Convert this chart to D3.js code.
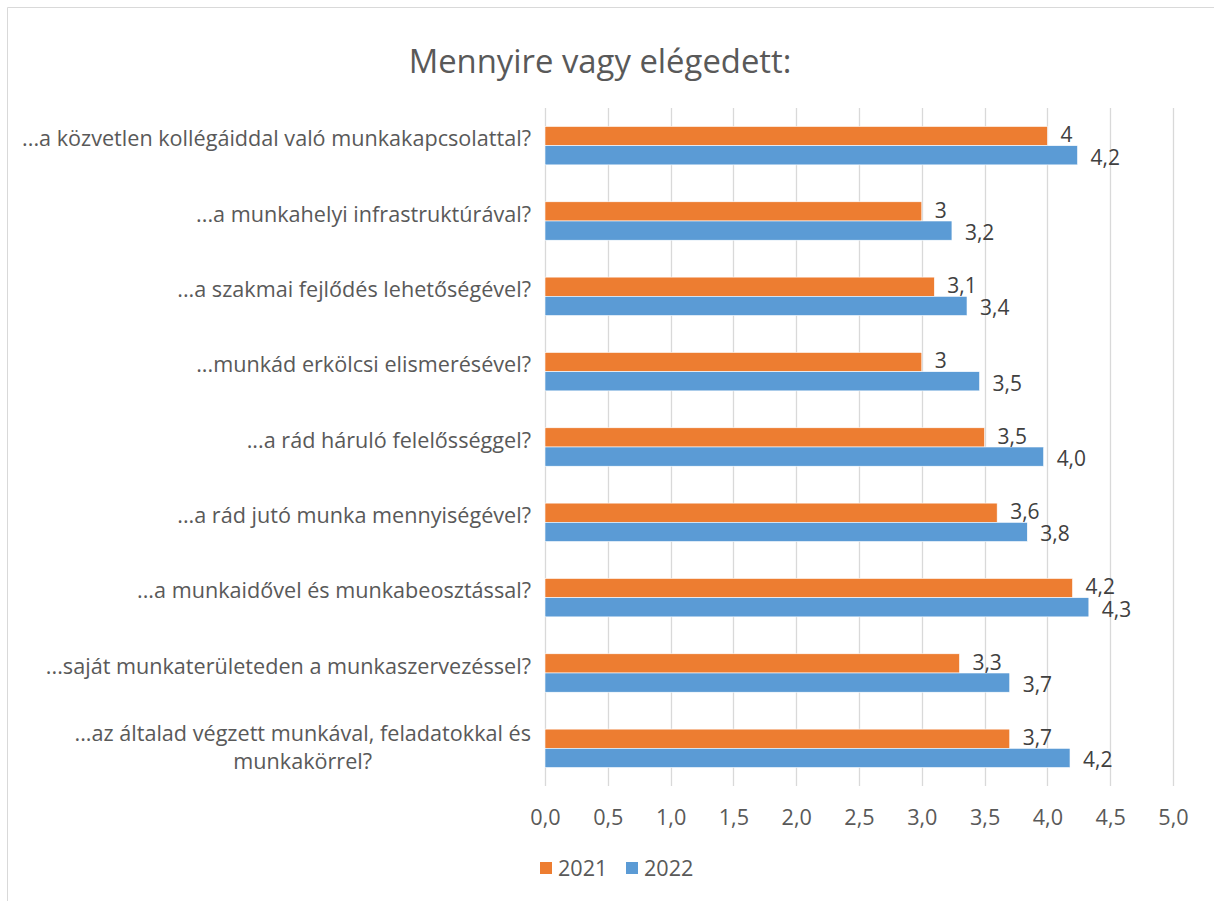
<!DOCTYPE html>
<html lang="hu">
<head>
<meta charset="utf-8">
<title>Mennyire vagy elégedett</title>
<script src="https://d3js.org/d3.v7.min.js"></script>
<style>
  body { margin: 0; background: #fff; }
  text { font-family: "Open Sans", sans-serif; }
</style>
</head>
<body>
<div id="container"></div>
<script>
  const width = 1214, height = 901;
  const margin = {top: 108, right: 41, bottom: 115, left: 545};

  const categories = [
    "...a közvetlen kollégáiddal való munkakapcsolattal?",
    "...a munkahelyi infrastruktúrával?",
    "...a szakmai fejlődés lehetőségével?",
    "...munkád erkölcsi elismerésével?",
    "...a rád háruló felelősséggel?",
    "...a rád jutó munka mennyiségével?",
    "...a munkaidővel és munkabeosztással?",
    "...saját munkaterületeden a munkaszervezéssel?",
    "...az általad végzett munkával, feladatokkal és munkakörrel?"
  ];
  const series = ["2021", "2022"];
  const values2021 = [4, 3, 3.1, 3, 3.5, 3.6, 4.2, 3.3, 3.7];
  const values2022 = [4.24, 3.24, 3.36, 3.46, 3.97, 3.84, 4.33, 3.70, 4.18];
  const ticks = [0, 0.5, 1, 1.5, 2, 2.5, 3, 3.5, 4, 4.5, 5];
  const colors = {"2021": "#ED7D31", "2022": "#5B9BD5"};

  // label formats: 2021 "general", 2022 one decimal, Hungarian comma
  const fmt = {
    "2021": v => d3.format("~g")(+v.toFixed(1)).replace(".", ","),
    "2022": v => d3.format(".1f")(v).replace(".", ",")
  };

  const rows = categories.map((c, i) => ({
    cat: c,
    vals: [{key: "2021", v: values2021[i]}, {key: "2022", v: values2022[i]}]
  }));

  const x = d3.scaleLinear().domain([0, 5]).range([margin.left, width - margin.right]);
  const y = d3.scaleBand().domain(categories).range([margin.top, height - margin.bottom]).paddingInner(0.49).paddingOuter(0.245);
  const y1 = d3.scaleBand().domain(series).range([0, y.bandwidth()]);

  const svg = d3.select("#container").append("svg")
      .attr("width", width).attr("height", height);

  // fit the font sizes to the widths in the original (Calibri is not installed)
  function fitSize(str, targetW) {
    const t = svg.append("text").attr("font-size", 20).text(str);
    const w = t.node().getComputedTextLength();
    t.remove();
    return 20 * targetW / w;
  }
  const fs = fitSize(categories[0], 509);
  const titleFs = fitSize("Mennyire vagy elégedett:", 383);

  svg.append("rect").attr("width", width).attr("height", height).attr("fill", "#fff");
  // chart frame (only top/left visible in the crop)
  svg.append("path").attr("d", `M7.5,${height}V7.5H${width}`)
      .attr("fill", "none").attr("stroke", "#d9d9d9");

  svg.append("text")
      .attr("x", 600).attr("y", 62)
      .attr("dy", "0.35em")
      .attr("text-anchor", "middle")
      .attr("font-size", titleFs).attr("fill", "#595959")
      .text("Mennyire vagy elégedett:");

  // vertical gridlines
  const plotBottom = height - margin.bottom;
  svg.append("g")
    .selectAll("line").data(ticks).join("line")
      .attr("x1", d => Math.round(x(d)) + 0.5).attr("x2", d => Math.round(x(d)) + 0.5)
      .attr("y1", margin.top).attr("y2", plotBottom)
      .attr("stroke", "#d9d9d9").attr("stroke-width", 1.3);

  // x axis labels
  const xAxis = d3.axisBottom(x).tickValues(ticks).tickSize(0).tickPadding(0)
      .tickFormat(d => d3.format(".1f")(d).replace(".", ","));
  svg.append("g")
      .attr("transform", `translate(0,${plotBottom + 24})`)
      .call(xAxis)
      .call(g => g.select(".domain").remove())
      .call(g => g.selectAll("text").attr("font-size", fs).attr("fill", "#595959")
                  .attr("font-family", null));

  // bars
  const groups = svg.append("g").selectAll("g").data(rows).join("g")
      .attr("transform", d => `translate(0,${y(d.cat)})`);

  groups.selectAll("rect").data(d => d.vals).join("rect")
      .attr("x", x(0))
      .attr("y", d => y1(d.key))
      .attr("width", d => x(d.v) - x(0))
      .attr("height", y1.bandwidth())
      .attr("fill", d => colors[d.key])
      .attr("stroke", "#fff").attr("stroke-width", 0.6);

  groups.selectAll("text.lbl").data(d => d.vals).join("text")
      .attr("class", "lbl")
      .attr("x", d => x(d.v) + 13)
      .attr("y", d => y1(d.key) + y1.bandwidth() / 2 + (d.key === "2021" ? -1 : 2))
      .attr("dy", "0.35em")
      .attr("font-size", fs * 0.97).attr("fill", "#404040")
      .text(d => fmt[d.key](d.v));

  // category labels (wrap the long last one, centered lines like Excel)
  const labelRight = 531;
  const catG = svg.append("g");
  categories.forEach((c, i) => {
    const cy = y(c) + y.bandwidth() / 2;
    if (i === categories.length - 1) {
      const line1 = "...az általad végzett munkával, feladatokkal és";
      const line2 = "munkakörrel?";
      const t = catG.append("text")
          .attr("font-size", fs).attr("fill", "#595959");
      const s1 = t.append("tspan").attr("x", labelRight).attr("y", cy - 15)
          .attr("dy", "0.35em").attr("text-anchor", "end").text(line1);
      const w1 = s1.node().getComputedTextLength();
      t.append("tspan").attr("x", labelRight - w1 / 2).attr("y", cy + 13)
          .attr("dy", "0.35em").attr("text-anchor", "middle").text(line2);
    } else {
      catG.append("text").attr("x", labelRight).attr("y", cy - 7)
          .attr("dy", "0.35em").attr("text-anchor", "end")
          .attr("font-size", fs).attr("fill", "#595959").text(c);
    }
  });

  // legend
  const legend = svg.append("g").attr("transform", "translate(540,862)");
  const legX = [0, 86];
  series.forEach((s, i) => {
    legend.append("rect").attr("x", legX[i]).attr("y", 0).attr("width", 12).attr("height", 12)
        .attr("fill", colors[s]);
    legend.append("text").attr("x", legX[i] + 18).attr("y", 6).attr("dy", "0.35em")
        .attr("font-size", fs).attr("fill", "#595959").text(s);
  });
</script>
</body>
</html>
